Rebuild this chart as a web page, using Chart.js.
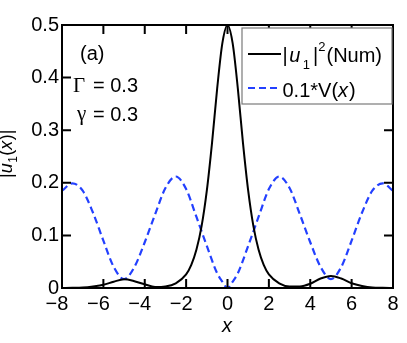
<!DOCTYPE html>
<html><head><meta charset="utf-8">
<script src="https://cdn.jsdelivr.net/npm/chart.js@4/dist/chart.umd.min.js"></script>
<style>html,body{margin:0;padding:0;background:#fff;} canvas{display:block;}</style>
</head><body>
<canvas id="c" width="407" height="343"></canvas>
<script>
// ---- data ----
const xTicks = [-8, -6, -4, -2, 0, 2, 4, 6, 8];
const xTickLabels = ['\u22128\u2002', '\u22126\u2002', '\u22124\u2002', '\u22122\u2002', '0', '2', '4', '6', '8'];
const yTicks = [0, 0.1, 0.2, 0.3, 0.4, 0.5];
const yTickLabels = ['0', '0.1', '0.2', '0.3', '0.4', '0.5'];

const xNum = [-8,-7.5,-7,-6.5,-6,-5.5,-5,-4.5,-4,-3.5,-3,-2.5,-2,-1.75,-1.5,-1.25,-1,-0.75,-0.5,-0.25,0,
              0.25,0.5,0.75,1,1.25,1.5,1.75,2,2.5,3,3.5,4,4.5,5,5.5,6,6.5,7,7.5,8];
const uNum = [0,0.0003,0.001,0.003,0.006,0.012,0.0165,0.013,0.007,0.002,0.003,0.009,0.026,0.044,0.073,0.118,0.185,0.275,0.379,0.465,0.5,
              0.465,0.379,0.275,0.185,0.118,0.073,0.044,0.026,0.009,0.003,0.003,0.008,0.018,0.023,0.018,0.009,0.004,0.001,0.0003,0];

const xPot = [-8,-7.5,-7,-6.5,-6,-5.5,-5,-4.5,-4,-3.5,-3,-2.5,-2,-1.5,-1,-0.5,-0.25,0,0.25,0.5,1,1.5,2,2.5,3,3.5,4,4.5,5,5.5,6,6.5,7,7.5,8];
const vPot = [0.185,0.199,0.185,0.143,0.09,0.04,0.017,0.04,0.087,0.14,0.19,0.212,0.188,0.135,0.08,0.028,0.012,0,0.012,0.028,0.08,0.135,0.188,0.212,0.19,0.14,0.087,0.04,0.017,0.04,0.09,0.143,0.185,0.199,0.185];

const SANS = '"Liberation Sans", Arial, Helvetica, sans-serif';
const SERIF = '"Liberation Serif", "Times New Roman", serif';

function drawPieces(ctx, pieces, x, y) {
  let cx = x;
  for (const p of pieces) {
    ctx.font = p.font;
    ctx.fillText(p.t, cx, y + (p.dy || 0));
    cx += ctx.measureText(p.t).width + (p.gap || 0);
  }
}

const decor = {
  id: 'decor',
  afterDraw(chart) {
    const ctx = chart.ctx;
    const a = chart.chartArea;
    const xs = chart.scales.x, ys = chart.scales.y;
    ctx.save();
    ctx.strokeStyle = '#000';
    ctx.lineWidth = 2;
    const TL = 9;
    ctx.beginPath();
    for (const v of xTicks) {
      const px = xs.getPixelForValue(v);
      ctx.moveTo(px, a.bottom); ctx.lineTo(px, a.bottom - TL);
      ctx.moveTo(px, a.top); ctx.lineTo(px, a.top + TL);
    }
    for (const v of yTicks) {
      const py = ys.getPixelForValue(v);
      ctx.moveTo(a.left, py); ctx.lineTo(a.left + TL, py);
      ctx.moveTo(a.right, py); ctx.lineTo(a.right - TL, py);
    }
    ctx.stroke();
    ctx.strokeRect(a.left, a.top, a.right - a.left, a.bottom - a.top);

    // legend
    const ds = chart.data.datasets;
    ctx.fillStyle = '#fff';
    ctx.fillRect(242, 28, 150, 76);
    ctx.strokeStyle = '#7a7a7a';
    ctx.lineWidth = 1.2;
    ctx.strokeRect(242, 28, 150, 76);
    const rows = [54, 88];
    ds.forEach((d, i) => {
      ctx.strokeStyle = d.borderColor;
      ctx.lineWidth = d.borderWidth;
      ctx.setLineDash(d.borderDash || []);
      ctx.beginPath();
      ctx.moveTo(248, rows[i]); ctx.lineTo(281, rows[i]);
      ctx.stroke();
    });
    ctx.setLineDash([]);
    ctx.fillStyle = '#000';
    ctx.textBaseline = 'alphabetic';
    ctx.textAlign = 'left';
    const F = '20px ' + SANS, FI = 'italic 20px ' + SANS, FS = '13px ' + SANS;
    drawPieces(ctx, [
      {t: '|', font: F, gap: 1.5}, {t: 'u', font: FI, gap: 2.5}, {t: '1', font: FS, dy: 7, gap: 3},
      {t: '|', font: F, gap: 0}, {t: '2', font: FS, dy: -11, gap: 1}, {t: '(Num)', font: F}
    ], 282.5, 62);
    drawPieces(ctx, [
      {t: '0.1*V(', font: F}, {t: 'x', font: FI, gap: 1}, {t: ')', font: F}
    ], 282.5, 97);

    // annotations
    ctx.font = F;
    ctx.fillText('(a)', 80, 60);
    ctx.font = '21px ' + SERIF;
    ctx.fillText('\u0393', 73, 92);
    ctx.fillText('\u03B3', 77, 120);
    ctx.font = F;
    ctx.fillText('= 0.3', 93, 92);
    ctx.fillText('= 0.3', 93, 121);

    // x title
    ctx.font = FI;
    ctx.textAlign = 'center';
    ctx.fillText('x', 227, 332);

    // y title (rotated)
    ctx.textAlign = 'left';
    ctx.translate(12, 178);
    ctx.rotate(-Math.PI / 2);
    const G = '18px ' + SANS, GI = 'italic 18px ' + SANS, GS = '12px ' + SANS;
    drawPieces(ctx, [
      {t: '|', font: G}, {t: 'u', font: GI, gap: 0.5}, {t: '1', font: GS, dy: 5, gap: 0.5},
      {t: '(', font: G}, {t: 'x', font: GI, gap: 0.5}, {t: ')', font: G}, {t: '|', font: G}
    ], 0, 0);
    ctx.restore();
  }
};

new Chart(document.getElementById('c'), {
  type: 'scatter',
  data: {
    datasets: [
      {
        label: '|u1|^2(Num)',
        data: xNum.map((x, i) => ({x, y: uNum[i]})),
        showLine: true, borderColor: '#000000', borderWidth: 2,
        pointRadius: 0, cubicInterpolationMode: 'monotone', fill: false
      },
      {
        label: '0.1*V(x)',
        data: xPot.map((x, i) => ({x, y: vPot[i]})),
        showLine: true, borderColor: '#2340ff', borderWidth: 2.2, borderDash: [7, 4],
        pointRadius: 0, cubicInterpolationMode: 'monotone', fill: false
      }
    ]
  },
  options: {
    responsive: false,
    animation: false,
    devicePixelRatio: 1,
    layout: { padding: { left: 0, top: 25, right: 14, bottom: 0 } },
    plugins: { legend: { display: false }, tooltip: { enabled: false } },
    scales: {
      x: {
        type: 'linear', min: -8, max: 8,
        afterFit(s) { s.height = 55; },
        afterBuildTicks(s) { s.ticks = xTicks.map(v => ({value: v})); },
        grid: { display: false, drawTicks: false },
        border: { display: false },
        ticks: {
          padding: 4, color: '#000', font: { family: SANS, size: 20 },
          maxRotation: 0, autoSkip: false,
          callback: (v) => { const i = xTicks.indexOf(v); return i >= 0 ? xTickLabels[i] : ''; }
        }
      },
      y: {
        type: 'linear', min: 0, max: 0.5,
        afterFit(s) { s.width = 62; },
        afterBuildTicks(s) { s.ticks = yTicks.map(v => ({value: v})); },
        grid: { display: false, drawTicks: false },
        border: { display: false },
        ticks: {
          padding: 3, color: '#000', font: { family: SANS, size: 20 },
          autoSkip: false,
          callback: (v) => { const i = yTicks.findIndex(t => Math.abs(t - v) < 1e-9); return i >= 0 ? yTickLabels[i] : ''; }
        }
      }
    }
  },
  plugins: [decor]
});
</script>
</body></html>
